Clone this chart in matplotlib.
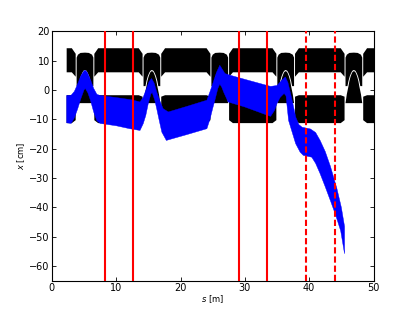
import numpy as np
import matplotlib
matplotlib.use("Agg")
import matplotlib.pyplot as plt

# beam envelope (blue band)
env_s = [2.3, 3.0, 3.5, 4.0, 4.5, 5.0, 5.2, 5.5, 6.0, 6.5, 7.0, 7.5, 10.0, 12.5,
         13.7, 14.2, 14.7, 15.1, 15.5, 15.9, 16.3, 16.8, 17.3, 18.1, 21.0, 24.1,
         24.6, 25.1, 25.6, 26.1, 26.5, 26.9, 27.4, 30.0, 34.0, 35.0, 35.7, 36.3,
         36.7, 37.1, 37.5, 37.9, 38.4, 38.9, 40.2, 41.0, 41.7, 42.5, 43.3, 44.3,
         45.0, 45.5]
env_top = [-1.9, -1.8, -0.5, 2.0, 4.8, 6.5, 6.7, 6.0, 3.5, 0.5, -1.5, -1.9, -2.6, -3.4,
           -4.1, -2.5, 0.4, 2.8, 3.9, 2.3, -0.7, -3.8, -6.4, -7.5, -5.6, -3.5,
           -0.5, 2.7, 6.0, 8.4, 7.0, 5.6, 5.2, 3.6, 1.2, 1.5, 3.2, 4.4,
           2.5, -1.2, -5.0, -9.2, -11.8, -12.7, -13.3, -14.5, -17.2, -21.0, -26.0, -33.5,
           -40.0, -46.5]

env_bs = [2.3, 3.0, 3.5, 4.0, 4.5, 5.0, 5.2, 5.6, 6.0, 6.5, 7.0, 7.5, 10.0, 12.1,
          13.7, 14.2, 14.6, 15.0, 15.4, 15.6, 16.0, 16.3, 16.7, 17.1, 17.8, 18.1,
          21.0, 24.1, 24.6, 25.0, 25.4, 25.8, 26.1, 26.4, 26.7, 27.4, 30.0, 34.0,
          34.6, 35.0, 35.5, 36.1, 36.4, 36.8, 37.3, 37.9, 38.6, 39.1, 40.4, 41.0,
          41.7, 42.5, 43.3, 44.1, 44.9, 45.5]
env_bot = [-11.2, -11.4, -9.5, -6.5, -3.0, 0.0, 0.5, -1.0, -3.5, -7.5, -10.5, -11.4, -12.2, -13.2,
           -13.8, -11.5, -8.7, -4.5, -1.3, -0.9, -3.5, -6.4, -10.5, -14.4, -17.2, -17.0,
           -15.2, -13.2, -9.8, -6.3, -3.0, 0.5, 2.0, 1.0, -0.7, -4.1, -5.8, -9.0,
           -7.0, -4.6, -2.5, -1.2, -2.0, -10.4, -14.0, -18.3, -21.2, -22.3, -22.9, -25.0,
           -28.5, -33.0, -37.7, -42.5, -48.0, -55.8]

# magnet layout
quad_s = [5.15, 15.55, 26.1, 36.35, 46.95]
dip_start = [2.3, 6.6, 17.0, 27.55, 37.8, 48.4]
dip_end = [3.7, 14.1, 24.65, 34.9, 45.5, 58.9]
dip_cut_left = [True, False, False, False, False, False]

# quadrupole pole shapes, relative to quad centre (ds, x)
qu_ds = [-1.3, -1.3, -1.1, -0.7, 0.0, 0.6, 1.1, 1.3, 1.3,
         1.0, 0.85, 0.65, 0.45, 0.25, 0.0, -0.25, -0.45, -0.65, -0.85, -1.0]
qu_x = [1.3, 11.0, 12.0, 12.6, 12.7, 12.6, 12.0, 11.0, 1.3,
        1.3, 3.0, 4.6, 5.7, 6.5, 6.8, 6.5, 5.7, 4.6, 3.0, 1.3]
ql_ds = [-1.3, -1.1, -0.84, -0.7, -0.52, -0.35, -0.2, 0.0,
         0.2, 0.35, 0.52, 0.7, 0.84, 1.1, 1.3]
ql_x = [-4.5, -1.5, 1.3, 3.0, 4.5, 5.5, 6.15, 6.4,
        6.15, 5.5, 4.5, 3.0, 1.3, -1.5, -4.5]

# dipole pole levels
dip_up = [14.2, 6.0, 12.3, 4.5]       # top, bottom, top at end, bottom at end
dip_lo = [-1.8, -11.3, -2.3, -10.3]
chamfer = 0.6

sol_lines = [8.2, 12.6, 29.1, 33.5]
dash_lines = [39.5, 44.0]

fs = 7

fig = plt.figure(figsize=(4.15, 3.12), dpi=100)
ax = fig.add_subplot(111)
fig.subplots_adjust(left=0.125, right=0.9, bottom=0.1, top=0.9)


def block(a, b, top, bot, top_end, bot_end, cut_left):
    c = 0.0 if cut_left else chamfer
    s = [a, a + c, b - chamfer, b, b, b - chamfer, a + c, a]
    if cut_left:
        z = [top, top, top, top_end, bot_end, bot, bot, bot]
    else:
        z = [top_end, top, top, top_end, bot_end, bot, bot, bot_end]
    return s, z


for a, b, cut in zip(dip_start, dip_end, dip_cut_left):
    s, z = block(a, b, dip_up[0], dip_up[1], dip_up[2], dip_up[3], cut)
    ax.fill(s, z, color='k', lw=0)
    s, z = block(a, b, dip_lo[0], dip_lo[1], dip_lo[2], dip_lo[3], cut)
    ax.fill(s, z, color='k', lw=0)

for q in quad_s:
    ax.fill(q + np.array(qu_ds), qu_x, color='k', lw=0)
    ax.fill(q + np.array(ql_ds), ql_x, color='k', lw=0)

# beam band
band_s = np.concatenate([env_s, env_bs[::-1]])
band_x = np.concatenate([env_top, env_bot[::-1]])
ax.fill(band_s, band_x, color='b', lw=0.3, edgecolor='b', zorder=3)

for xl in sol_lines:
    ax.axvline(xl, color='r', lw=1.5, zorder=4)
for xl in dash_lines:
    ax.axvline(xl, color='r', lw=1.5, ls=(0, (3.0, 1.4)), zorder=4)

ax.set_xlim(0, 50)
ax.set_ylim(-65, 20)
ax.set_xticks(range(0, 51, 10))
ax.set_yticks(range(-60, 21, 10))
ax.tick_params(direction='in', top=True, right=True, length=2.8, width=0.6,
               labelsize=fs, pad=1.5)
for sp in ax.spines.values():
    sp.set_linewidth(0.8)
ax.set_xlabel("$s$ [m]", fontsize=fs - 1, labelpad=0.5)
ax.set_ylabel("$x$ [cm]", fontsize=fs - 1, labelpad=2)

plt.savefig("out.png", dpi=100)
